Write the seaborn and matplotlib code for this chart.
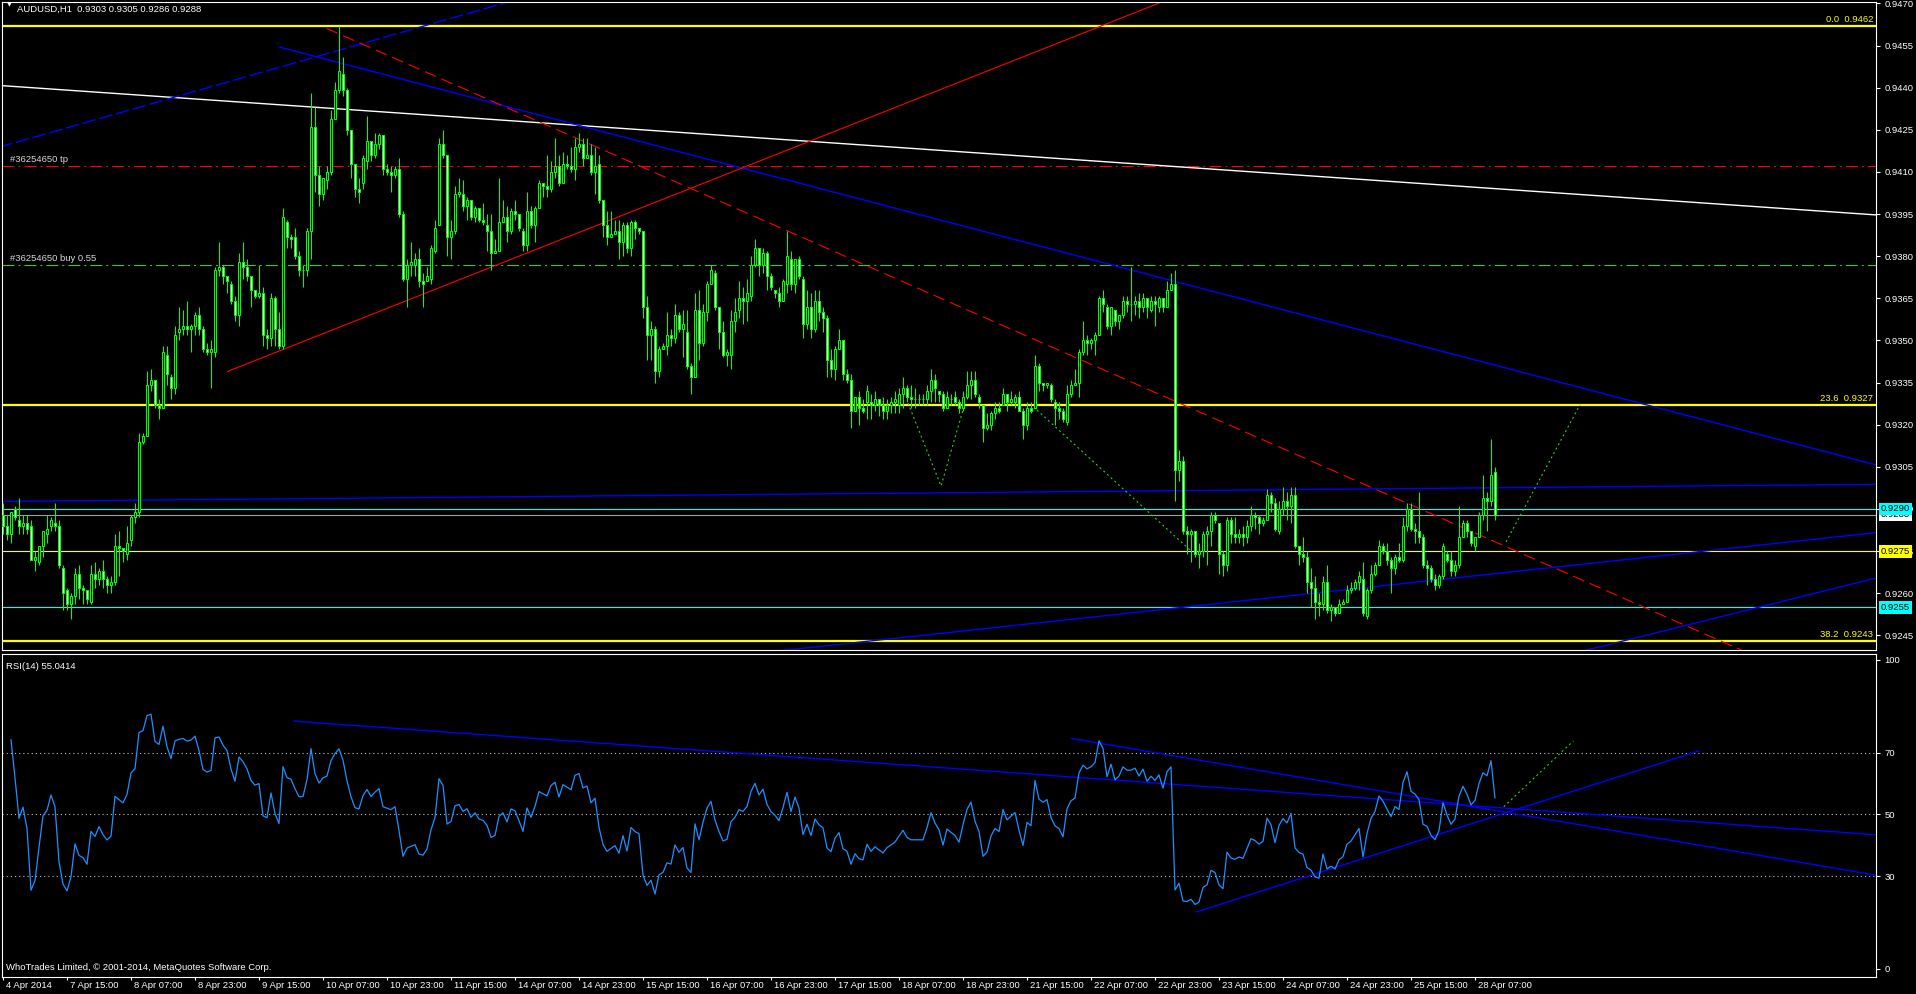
import numpy as np
import pandas as pd
import seaborn as sns
import matplotlib.pyplot as plt
from matplotlib import transforms

# AUDUSD H1, цены свечей в пунктах выше 0.9200
BASE = 0.9200
PIP = 0.0001

open_pips = [
    88, 84, 81, 90, 86, 84, 85, 84, 72, 71, 77, 81, 84, 85, 84, 69, 61, 56, 59, 67,
    62, 61, 57, 67, 65, 68, 65, 63, 64, 77, 76, 74, 79, 87, 89, 114, 116, 134, 136, 127,
    126, 145, 137, 133, 153, 154, 155, 154, 155, 159, 154, 147, 146, 146, 175, 176, 173, 170, 164, 159,
    178, 176, 173, 168, 166, 167, 152, 151, 165, 154, 148, 192, 187, 187, 180, 175, 175, 189, 226, 209,
    202, 207, 210, 229, 239, 245, 239, 225, 213, 204, 206, 214, 221, 216, 220, 223, 211, 210, 209, 211,
    195, 172, 177, 177, 179, 171, 171, 172, 182, 191, 220, 216, 187, 189, 202, 202, 198, 200, 194, 197,
    193, 191, 189, 181, 182, 192, 194, 189, 196, 195, 189, 184, 196, 191, 197, 206, 205, 204, 210, 212,
    206, 213, 212, 211, 219, 220, 215, 216, 210, 213, 200, 191, 187, 188, 189, 185, 191, 183, 192, 190,
    189, 162, 152, 154, 139, 147, 148, 152, 151, 159, 154, 153, 141, 137, 161, 149, 160, 170, 174, 162,
    153, 145, 145, 157, 161, 165, 164, 166, 177, 183, 177, 181, 173, 168, 167, 164, 170, 179, 170, 179,
    172, 156, 162, 154, 164, 160, 158, 143, 140, 147, 150, 138, 136, 125, 130, 126, 128, 128, 127, 129,
    127, 125, 127, 128, 127, 131, 133, 130, 129, 129, 129, 129, 132, 136, 132, 131, 126, 129, 130, 128,
    126, 130, 134, 136, 130, 127, 119, 120, 124, 126, 127, 131, 128, 128, 130, 125, 120, 126, 126, 141,
    135, 134, 134, 128, 126, 125, 121, 131, 134, 135, 146, 150, 149, 150, 152, 165, 162, 155, 161, 157,
    159, 164, 163, 163, 164, 162, 165, 161, 164, 162, 165, 162, 168, 170, 104, 107, 82, 81, 82, 74,
    75, 81, 82, 88, 85, 74, 70, 86, 81, 80, 81, 80, 84, 88, 87, 85, 86, 95, 92, 82,
    90, 93, 91, 95, 77, 74, 73, 64, 62, 57, 56, 64, 54, 55, 53, 56, 57, 61, 62, 64,
    65, 52, 61, 67, 70, 77, 75, 72, 69, 73, 72, 84, 90, 83, 82, 80, 70, 69, 65, 63,
    66, 74, 72, 68, 70, 80, 85, 82, 77, 80, 88, 94, 93, 103,
]
high_pips = [
    92, 88, 89, 91, 94, 88, 88, 86, 75, 77, 82, 88, 87, 92, 86, 70, 62, 60, 69, 70,
    63, 61, 70, 71, 69, 72, 66, 66, 81, 82, 76, 84, 88, 92, 117, 117, 139, 140, 136, 129,
    148, 148, 138, 155, 162, 161, 164, 156, 160, 162, 155, 149, 150, 176, 185, 177, 173, 171, 166, 181,
    185, 179, 173, 168, 177, 169, 154, 167, 166, 160, 197, 193, 188, 190, 182, 177, 190, 238, 233, 212,
    208, 212, 232, 242, 262, 251, 240, 225, 213, 208, 216, 230, 221, 224, 224, 223, 213, 212, 212, 215,
    196, 179, 185, 181, 183, 174, 176, 184, 193, 222, 225, 216, 193, 205, 208, 207, 201, 200, 198, 197,
    199, 195, 195, 186, 208, 200, 198, 197, 200, 195, 190, 203, 198, 198, 207, 206, 216, 214, 222, 216,
    217, 216, 219, 222, 224, 222, 222, 220, 219, 216, 200, 196, 196, 193, 193, 192, 192, 193, 193, 190,
    189, 166, 157, 155, 148, 149, 160, 154, 163, 160, 161, 161, 142, 167, 168, 163, 171, 177, 175, 162,
    157, 147, 161, 165, 171, 169, 172, 180, 186, 183, 183, 182, 174, 168, 169, 172, 189, 182, 179, 180,
    173, 168, 167, 168, 168, 162, 159, 147, 148, 154, 150, 140, 138, 130, 132, 129, 134, 131, 132, 129,
    130, 129, 130, 132, 133, 137, 134, 134, 133, 131, 131, 134, 140, 138, 132, 132, 132, 131, 132, 129,
    132, 139, 139, 139, 131, 127, 124, 125, 128, 128, 133, 131, 132, 131, 132, 126, 128, 128, 145, 142,
    135, 135, 135, 129, 128, 126, 134, 136, 140, 147, 157, 152, 151, 153, 166, 168, 163, 162, 161, 159,
    166, 166, 176, 166, 167, 167, 165, 166, 166, 166, 165, 171, 174, 175, 111, 109, 84, 83, 82, 78,
    82, 84, 89, 89, 85, 75, 87, 87, 87, 83, 84, 86, 91, 89, 88, 87, 97, 96, 94, 93,
    98, 96, 98, 98, 77, 80, 75, 69, 66, 60, 66, 70, 56, 55, 58, 58, 63, 64, 65, 68,
    71, 62, 70, 71, 79, 78, 78, 73, 74, 78, 87, 92, 92, 85, 96, 81, 72, 70, 67, 67,
    78, 75, 75, 72, 91, 86, 86, 82, 80, 89, 102, 96, 115, 105,
]
low_pips = [
    81, 79, 78, 86, 81, 81, 81, 72, 68, 70, 73, 78, 82, 82, 69, 54, 54, 51, 56, 58,
    56, 56, 56, 62, 63, 62, 60, 60, 63, 66, 71, 72, 77, 85, 87, 113, 116, 132, 126, 122,
    126, 134, 129, 131, 150, 152, 152, 146, 152, 152, 146, 145, 133, 144, 173, 170, 167, 163, 157, 155,
    172, 171, 162, 165, 165, 148, 147, 148, 148, 147, 147, 183, 183, 179, 173, 169, 173, 179, 203, 198,
    200, 204, 209, 229, 238, 237, 223, 208, 201, 199, 204, 211, 214, 215, 218, 209, 209, 203, 208, 194,
    171, 162, 173, 173, 169, 162, 171, 170, 181, 191, 215, 180, 179, 188, 201, 196, 193, 193, 192, 192,
    191, 182, 175, 181, 182, 192, 185, 188, 193, 189, 182, 182, 190, 185, 197, 201, 201, 203, 208, 205,
    206, 211, 210, 207, 217, 212, 215, 209, 202, 199, 187, 184, 187, 188, 179, 180, 181, 180, 186, 188,
    158, 143, 143, 135, 137, 147, 145, 148, 149, 153, 144, 140, 131, 137, 143, 148, 157, 170, 161, 147,
    144, 141, 140, 153, 158, 156, 157, 164, 176, 173, 174, 168, 168, 165, 162, 164, 167, 168, 167, 172,
    151, 154, 151, 153, 157, 153, 137, 137, 136, 147, 136, 135, 119, 125, 120, 124, 122, 122, 125, 123,
    122, 122, 124, 124, 124, 126, 128, 126, 126, 127, 127, 127, 128, 128, 128, 125, 126, 127, 127, 124,
    125, 129, 129, 130, 126, 114, 118, 118, 122, 124, 127, 125, 127, 126, 125, 115, 118, 124, 126, 132,
    132, 133, 128, 120, 122, 121, 120, 130, 134, 130, 145, 145, 147, 145, 152, 160, 154, 152, 155, 154,
    158, 160, 157, 159, 158, 160, 158, 160, 155, 160, 160, 162, 168, 93, 100, 81, 74, 71, 73, 69,
    73, 70, 77, 85, 67, 66, 68, 78, 78, 78, 77, 78, 82, 83, 81, 84, 86, 89, 82, 81,
    88, 86, 85, 76, 70, 71, 60, 55, 51, 52, 54, 53, 50, 52, 53, 56, 57, 60, 61, 61,
    52, 51, 60, 66, 70, 74, 70, 60, 67, 71, 71, 82, 82, 78, 78, 69, 63, 64, 61, 62,
    65, 71, 66, 66, 69, 80, 80, 77, 75, 80, 86, 82, 91, 86,
]
close_pips = [
    84, 81, 89, 87, 84, 85, 83, 72, 73, 77, 82, 83, 86, 84, 70, 60, 56, 59, 67, 62,
    61, 58, 67, 65, 68, 65, 63, 64, 77, 76, 75, 78, 87, 89, 114, 116, 134, 136, 127, 126,
    146, 138, 133, 152, 154, 155, 154, 155, 159, 154, 147, 146, 147, 175, 176, 173, 171, 164, 159, 178,
    176, 173, 168, 166, 167, 152, 151, 165, 154, 148, 194, 187, 186, 180, 175, 175, 189, 226, 209, 202,
    208, 210, 229, 239, 246, 239, 225, 213, 204, 203, 215, 221, 216, 220, 223, 211, 210, 209, 211, 195,
    172, 177, 178, 179, 171, 170, 173, 183, 190, 220, 216, 187, 189, 202, 203, 198, 200, 194, 197, 193,
    192, 189, 181, 182, 192, 194, 189, 196, 195, 190, 184, 196, 191, 197, 206, 205, 204, 210, 212, 206,
    213, 212, 211, 219, 220, 215, 216, 210, 212, 200, 191, 187, 188, 189, 185, 191, 183, 192, 190, 189,
    162, 152, 154, 139, 147, 148, 152, 151, 159, 154, 156, 141, 137, 161, 149, 160, 170, 175, 162, 153,
    145, 146, 157, 160, 165, 164, 167, 177, 183, 177, 181, 173, 169, 167, 164, 171, 180, 170, 179, 173,
    156, 162, 154, 164, 160, 158, 143, 140, 147, 150, 138, 136, 125, 130, 126, 125, 132, 127, 129, 127,
    125, 127, 128, 129, 131, 133, 130, 129, 129, 129, 129, 132, 136, 133, 131, 126, 130, 129, 128, 126,
    130, 134, 136, 131, 128, 119, 120, 124, 126, 125, 131, 128, 129, 130, 125, 120, 126, 125, 141, 135,
    134, 135, 129, 126, 125, 122, 131, 134, 135, 146, 150, 149, 150, 152, 165, 163, 155, 162, 157, 159,
    164, 163, 163, 164, 162, 165, 162, 164, 163, 165, 162, 168, 170, 104, 107, 82, 81, 82, 74, 75,
    81, 82, 88, 86, 74, 70, 86, 81, 80, 81, 80, 84, 88, 87, 85, 86, 95, 92, 83, 90,
    93, 91, 95, 77, 74, 73, 64, 62, 57, 56, 64, 54, 55, 53, 56, 57, 61, 62, 64, 66,
    53, 61, 67, 70, 77, 75, 72, 69, 73, 72, 84, 90, 83, 82, 80, 70, 69, 65, 63, 66,
    77, 72, 68, 70, 80, 85, 82, 78, 80, 88, 94, 93, 102, 88,
]

time_labels = ['4 Apr 2014', '7 Apr 15:00', '8 Apr 07:00', '8 Apr 23:00', '9 Apr 15:00',
               '10 Apr 07:00', '10 Apr 23:00', '11 Apr 15:00', '14 Apr 07:00', '14 Apr 23:00',
               '15 Apr 15:00', '16 Apr 07:00', '16 Apr 23:00', '17 Apr 15:00', '18 Apr 07:00',
               '18 Apr 23:00', '21 Apr 15:00', '22 Apr 07:00', '22 Apr 23:00', '23 Apr 15:00',
               '24 Apr 07:00', '24 Apr 23:00', '25 Apr 15:00', '28 Apr 07:00']
bars_per_label = 16

price_ticks = [0.9470, 0.9455, 0.9440, 0.9425, 0.9410, 0.9395, 0.9380, 0.9365,
               0.9350, 0.9335, 0.9320, 0.9305, 0.9290, 0.9275, 0.9260, 0.9245]
rsi_ticks = [100, 70, 50, 30, 0]
rsi_levels = [70, 50, 30]

fib_levels = [0.9462, 0.9327, 0.9243]
fib_names = ['0.0', '23.6', '38.2']
tp_price = 0.9412
buy_price = 0.9377
yellow_price = 0.9275
cyan_prices = [0.9290, 0.9255]
bid_price = 0.9288

# трендовые линии: (номер бара, цена)
white_line = [(0, 0.94407), (468.25, 0.93947)]
blue_up = [(-1, 0.94188), (128, 0.94712)]
blue_down = [(69, 0.94545), (468.25, 0.93057)]
blue_flat = [(-1, 0.92927), (468.25, 0.92988)]
blue_low1 = [(190, 0.92389), (468.25, 0.92816)]
blue_low2 = [(390, 0.92377), (468.25, 0.92654)]
red_up = [(56, 0.93389), (300, 0.94763)]
red_down = [(80.9, 0.94611), (440, 0.92364)]
green_v = [(226.25, 0.93277), (234.5, 0.92982), (240.5, 0.93277)]
green_down = [(258.5, 0.93252), (296.75, 0.92754)]
green_up = [(375.75, 0.92783), (394.25, 0.93271)]

# линии на RSI: (номер бара, значение)
rsi_line1 = [(72.6, 80.2), (468.4, 43.4)]
rsi_line2 = [(267, 74.6), (468.4, 30.3)]
rsi_line3 = [(298.2, 18.4), (424.1, 70.6)]
rsi_green = [(375.2, 52.5), (392.6, 73.8)]

LIME = '#00ff00'
BLUE = '#0000ff'
RED = '#ff0000'
GREEN = '#32cd32'
YELLOW = '#ffff00'
CYAN = '#00ffff'

sns.set_theme(style='dark', rc={
    'axes.facecolor': 'black', 'figure.facecolor': 'black',
    'axes.edgecolor': 'white', 'text.color': 'white',
    'xtick.color': 'white', 'ytick.color': 'white', 'axes.grid': False,
})
plt.rcParams['font.family'] = ['Liberation Sans', 'DejaVu Sans']
plt.rcParams['lines.scale_dashes'] = False

df = pd.DataFrame({'open': open_pips, 'high': high_pips,
                   'low': low_pips, 'close': close_pips}) * PIP + BASE
bars = np.arange(len(df))

# RSI(14) по Уайлдеру
delta = df['close'].diff()
gain = delta.clip(lower=0).ewm(alpha=1 / 14, adjust=True, min_periods=2).mean()
loss = (-delta.clip(upper=0)).ewm(alpha=1 / 14, adjust=True, min_periods=2).mean()
rsi = 100 * gain / (gain + loss)

W, H = 1916, 994
fig = plt.figure(figsize=(W / 100, H / 100), dpi=100, facecolor='black')


def px_rect(x0, y0, x1, y1):
    return [x0 / W, 1 - y1 / H, (x1 - x0) / W, (y1 - y0) / H]


ax = fig.add_axes(px_rect(2, 2, 1876, 650))
ax_rsi = fig.add_axes(px_rect(2, 654, 1876, 977))

for a in (ax, ax_rsi):
    a.set_facecolor('black')
    for sp in a.spines.values():
        sp.set_color('white')
        sp.set_linewidth(0.8)
    a.set_xlim(-0.25, 468.25)

ax.set_ylim(0.92398, 0.94705)
ax_rsi.set_ylim(-2.6, 101.9)


def draw(axis, pts, color, lw=0.8, dashes=None, z=2):
    xs, ys = zip(*pts)
    line, = axis.plot(xs, ys, color=color, lw=lw, zorder=z, solid_capstyle='butt')
    if dashes:
        line.set_dashes(dashes)


# горизонтальные уровни
for lvl in fib_levels:
    ax.axhline(lvl, color=YELLOW, lw=1.6, zorder=2)
ax.axhline(yellow_price, color=YELLOW, lw=0.8, zorder=2)
for lvl in cyan_prices:
    ax.axhline(lvl, color=CYAN, lw=0.8, zorder=2)
ax.axhline(bid_price, color='#a0a0a0', lw=0.8, zorder=2)
tp_line = ax.axhline(tp_price, color=RED, lw=0.8, zorder=2)
tp_line.set_dashes([8.6, 2.9, 1.4, 2.9])
buy_line = ax.axhline(buy_price, color=GREEN, lw=0.8, zorder=2)
buy_line.set_dashes([8.6, 2.9, 1.4, 2.9])

# трендовые линии
draw(ax, white_line, 'white', lw=1.0)
draw(ax, blue_up, BLUE, lw=1.0, dashes=[10, 2.5])
draw(ax, blue_down, BLUE, lw=1.0)
draw(ax, blue_flat, BLUE, lw=1.0)
draw(ax, blue_low1, BLUE, lw=1.0)
draw(ax, blue_low2, BLUE, lw=1.0)
draw(ax, red_up, RED, lw=0.8)
draw(ax, red_down, RED, lw=0.8, dashes=[8.6, 4.3])
for pts in (green_v, green_down, green_up):
    draw(ax, pts, GREEN, lw=0.8, dashes=[1.4, 2.2])

# свечи
up = (df['close'] >= df['open']).values
ax.vlines(bars, df['low'], df['high'], color=LIME, lw=0.75, zorder=3)
ax.bar(bars[up], (df['close'] - df['open'])[up], bottom=df['open'][up], width=0.55,
       color='black', edgecolor=LIME, linewidth=0.75, zorder=4)
ax.bar(bars[~up], (df['open'] - df['close'])[~up], bottom=df['close'][~up], width=0.55,
       color='white', edgecolor=LIME, linewidth=0.75, zorder=4)

# подписи на графике цены
fs = 6.8
ax.text(0.0028, 0.9997, '\u25bc', transform=ax.transAxes, fontsize=4.5, color='white',
        va='top', ha='left', family=['DejaVu Sans'])
ax.text(0.008, 0.996, 'AUDUSD,H1  0.9303 0.9305 0.9286 0.9288', transform=ax.transAxes,
        fontsize=fs, color='white', va='top', ha='left')

lbl_tr = transforms.offset_copy(ax.transData, fig=fig, x=0, y=2, units='dots')
ax.text(1.75, tp_price, '#36254650 tp', transform=lbl_tr, fontsize=fs,
        color='#d8d8d8', va='bottom', ha='left')
ax.text(1.75, buy_price, '#36254650 buy 0.55', transform=lbl_tr, fontsize=fs,
        color='#d8d8d8', va='bottom', ha='left')

right_tr = transforms.offset_copy(
    transforms.blended_transform_factory(ax.transAxes, ax.transData),
    fig=fig, x=-3, y=2, units='dots')
for name, lvl in zip(fib_names, fib_levels):
    ax.text(1.0, lvl, f'{name}  {lvl:.4f}', transform=right_tr, fontsize=fs,
            color=YELLOW, va='bottom', ha='right')

# шкала цены
ax.yaxis.tick_right()
ax.set_yticks(price_ticks)
ax.set_yticklabels([f'{v:.4f}' for v in price_ticks])
ax.set_xticks([])
ax.tick_params(axis='y', which='both', right=True, left=False, labelright=True,
               labelleft=False, colors='white', labelsize=fs, length=3, width=0.8,
               direction='out', pad=3)

box_tr = transforms.offset_copy(
    transforms.blended_transform_factory(ax.transAxes, ax.transData),
    fig=fig, x=5, y=0, units='dots')
for price, color, z in [(bid_price, 'white', 6), (cyan_prices[0], CYAN, 7),
                        (yellow_price, YELLOW, 7), (cyan_prices[1], CYAN, 7)]:
    ax.text(1.0, price, f'{price:.4f}', transform=box_tr, fontsize=fs, color='black',
            va='center', ha='left', clip_on=False, zorder=z,
            bbox=dict(boxstyle='square,pad=0.2', facecolor=color, edgecolor='none'))

# RSI
for lvl in rsi_levels:
    lv = ax_rsi.axhline(lvl, color='#c0c0c0', lw=0.8, zorder=1)
    lv.set_dashes([0.8, 2.2])
sns.lineplot(x=bars, y=rsi, ax=ax_rsi, color='#1e90ff', linewidth=0.9, zorder=3)
for pts in (rsi_line1, rsi_line2, rsi_line3):
    draw(ax_rsi, pts, BLUE, lw=1.0)
draw(ax_rsi, rsi_green, GREEN, lw=0.8, dashes=[1.4, 2.2])

ax_rsi.text(0.002, 0.975, 'RSI(14) 55.0414', transform=ax_rsi.transAxes, fontsize=fs,
            color='white', va='top', ha='left')
ax_rsi.text(0.002, 0.015, 'WhoTrades Limited, \u00a9 2001-2014, MetaQuotes Software Corp.',
            transform=ax_rsi.transAxes, fontsize=fs, color='white', va='bottom', ha='left')

ax_rsi.yaxis.tick_right()
ax_rsi.set_yticks(rsi_ticks)
ax_rsi.set_yticklabels([str(v) for v in rsi_ticks])
ax_rsi.set_ylabel('')
tick_bars = np.arange(len(time_labels)) * bars_per_label
ax_rsi.set_xticks(tick_bars)
ax_rsi.set_xticklabels(time_labels)
ax_rsi.tick_params(axis='y', which='both', right=True, left=False, labelright=True,
                   labelleft=False, colors='white', labelsize=fs, length=3, width=0.8,
                   direction='out', pad=3)
ax_rsi.tick_params(axis='x', bottom=True, colors='white', labelsize=fs, length=2.5,
                   width=0.8, direction='out', pad=0.5)
shift = transforms.ScaledTranslation(2 / 72, 0, fig.dpi_scale_trans)
for lbl in ax_rsi.get_xticklabels():
    lbl.set_horizontalalignment('left')
    lbl.set_transform(lbl.get_transform() + shift)

fig.savefig('out.png', dpi=100, facecolor='black')
